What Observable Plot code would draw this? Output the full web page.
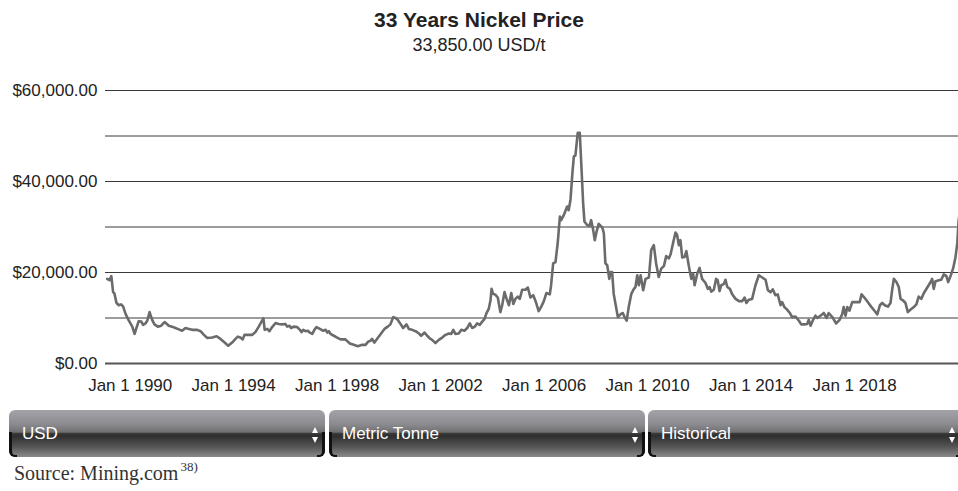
<!DOCTYPE html>
<html>
<head>
<meta charset="utf-8">
<script src="https://cdn.jsdelivr.net/npm/d3@7"></script>
<script src="https://cdn.jsdelivr.net/npm/@observablehq/plot@0.6"></script>
<style>
  body { margin: 0; background: #fff; width: 958px; height: 491px; overflow: hidden; font-family: "Liberation Sans", Arial, sans-serif; }
  #head { height: 60px; text-align: center; color: #222; }
  #title { padding-top: 8px; font-size: 21px; font-weight: bold; line-height: 24px; }
  #sub { margin-top: 2px; font-size: 18px; line-height: 22px; }
  #chart svg { display: block; }
  #controls { position: relative; height: 47px; margin-top: 10px; }
  .sel { position: absolute; top: 0; height: 47px; width: 316px; border-radius: 6px; box-sizing: border-box;
         background: linear-gradient(to bottom, #a4a4a8 0%, #8c8c90 30%, #707072 47%, #3a3a3a 50%, #2e2e2e 55%, #555 78%, #8a8a8a 100%);
         color: #fff; font-size: 17px; line-height: 47px; padding-left: 13px; }
  .sel::before { content: ""; position: absolute; left: 0; top: 22px; bottom: 0; width: 5px; border-left: 3px solid #111; border-bottom: 2px solid #111; border-bottom-left-radius: 6px; }
  .sel::after { content: ""; position: absolute; right: 0; top: 22px; bottom: 0; width: 5px; border-right: 3px solid #111; border-bottom: 2px solid #111; border-bottom-right-radius: 6px; }
  .arr { position: absolute; right: 7px; top: 17px; width: 0; height: 0; border-left: 3.5px solid transparent; border-right: 3.5px solid transparent; }
  .up { border-bottom: 6px solid #fff; }
  .dn { top: 27px; border-top: 6px solid #fff; }
  #source { margin-top: 4px; padding-left: 14px; font-family: "Liberation Serif", "Times New Roman", serif; font-size: 20px; line-height: 24px; color: #333; }
  #source sup { font-size: 13px; vertical-align: 9px; line-height: 0; margin-left: 2px; }
</style>
</head>
<body>
<div id="head">
  <div id="title">33 Years Nickel Price</div>
  <div id="sub">33,850.00 USD/t</div>
</div>
<div id="chart"></div>
<div id="controls">
  <div class="sel" style="left:9px">USD<div class="arr up"></div><div class="arr dn"></div></div>
  <div class="sel" style="left:329px">Metric Tonne<div class="arr up"></div><div class="arr dn"></div></div>
  <div class="sel" style="left:648px;width:316px">Historical<div class="arr up" style="right:9px"></div><div class="arr dn" style="right:9px"></div></div>
</div>
<div id="source">Source: Mining.com<sup>38)</sup></div>
<script>
// Decimal years
const years = [
  1989.11,1989.20,1989.27,1989.34,1989.39,1989.47,1989.56,1989.65,1989.73,1989.82,1989.95,
  1990.08,1990.17,1990.24,1990.33,1990.43,1990.50,1990.59,1990.66,1990.75,1990.85,1990.94,
  1991.07,1991.20,1991.33,1991.40,1991.49,1991.62,1991.75,1991.88,
  1992.01,1992.14,1992.27,1992.40,1992.59,1992.72,1992.85,1992.98,
  1993.17,1993.34,1993.49,1993.65,1993.79,1993.94,
  1994.07,1994.16,1994.26,1994.35,1994.42,1994.55,1994.72,1994.84,1994.97,
  1995.10,1995.15,1995.20,1995.30,1995.38,1995.49,1995.62,1995.74,1995.88,
  1996.00,1996.07,1996.16,1996.22,1996.32,1996.46,1996.56,1996.62,1996.69,1996.78,1996.87,1996.94,
  1997.04,1997.12,1997.20,1997.33,1997.46,1997.55,1997.62,1997.68,1997.74,1997.87,
  1998.00,1998.13,1998.32,1998.49,1998.64,1998.80,1998.97,
  1999.10,1999.20,1999.29,1999.35,1999.44,1999.57,1999.70,1999.83,1999.96,
  2000.06,2000.17,2000.26,2000.34,2000.45,2000.55,2000.68,2000.77,2000.90,
  2001.03,2001.16,2001.25,2001.38,2001.48,2001.58,2001.67,2001.80,2001.93,
  2002.06,2002.19,2002.32,2002.41,2002.49,2002.57,2002.70,2002.80,2002.92,
  2003.03,2003.13,2003.22,2003.32,2003.41,2003.51,2003.61,2003.70,2003.77,2003.86,2003.93,2003.97,
  2004.03,2004.12,2004.21,2004.31,2004.38,2004.47,2004.55,2004.64,2004.73,2004.81,2004.89,2004.98,
  2005.06,2005.15,2005.28,2005.37,2005.47,2005.58,2005.67,2005.79,2005.89,2005.99,
  2006.09,2006.22,2006.27,2006.35,2006.44,2006.53,2006.61,2006.66,2006.76,2006.89,2006.95,
  2007.02,2007.09,2007.15,2007.21,2007.30,2007.38,2007.47,2007.51,2007.56,2007.67,2007.75,2007.82,2007.90,2007.96,
  2008.03,2008.11,2008.25,2008.31,2008.37,2008.44,2008.52,2008.57,2008.63,2008.69,2008.76,2008.85,2008.95,
  2009.04,2009.11,2009.19,2009.27,2009.37,2009.47,2009.53,2009.60,2009.66,2009.73,2009.83,2009.92,
  2010.05,2010.14,2010.24,2010.33,2010.43,2010.53,2010.63,2010.72,2010.82,2010.89,2010.99,
  2011.08,2011.14,2011.21,2011.27,2011.34,2011.43,2011.50,2011.59,2011.69,2011.76,2011.82,2011.92,
  2012.01,2012.11,2012.24,2012.33,2012.40,2012.46,2012.56,2012.65,2012.71,2012.78,2012.85,2012.95,
  2013.01,2013.08,2013.18,2013.27,2013.40,2013.53,2013.66,2013.75,2013.82,2013.91,
  2014.04,2014.17,2014.30,2014.43,2014.56,2014.65,2014.75,2014.84,2014.94,
  2015.03,2015.14,2015.20,2015.29,2015.40,2015.50,2015.59,2015.72,2015.85,2015.94,
  2016.07,2016.17,2016.23,2016.30,2016.40,2016.49,2016.56,2016.68,2016.81,2016.92,
  2017.00,2017.14,2017.29,2017.42,2017.52,2017.58,2017.65,2017.72,2017.80,2017.91,
  2018.04,2018.20,2018.27,2018.38,2018.51,2018.64,2018.77,2018.88,2018.98,
  2019.07,2019.17,2019.29,2019.39,2019.46,2019.52,2019.62,2019.71,2019.78,2019.87,2019.97,
  2020.06,2020.16,2020.29,2020.39,2020.48,2020.58,2020.68,2020.81,2020.94,
  2021.00,2021.06,2021.13,2021.26,2021.35,2021.45,2021.55,2021.62,2021.71,2021.81,2021.90,2021.97,
  2022.02,2022.08
];
// Nickel price, USD per metric tonne
const prices = [
  18600,18300,19200,15700,15400,13300,12800,13000,12500,10900,9400,
  8100,6500,7800,9300,9200,8500,8800,9400,11300,9600,8600,
  8100,8300,9100,8800,8300,8100,7800,7500,
  7200,7800,7600,7400,7400,7100,6300,5600,
  5700,6000,5400,4600,3900,4600,
  5400,5900,5700,5300,6300,6300,6300,6900,8100,
  9400,9900,7400,7600,7100,8000,8900,8700,8600,
  8700,8100,8300,7800,8100,8000,7400,6900,7400,7100,7200,6800,
  6500,7400,8000,7600,7200,7400,6800,7100,6500,6100,
  5700,5300,5300,4400,4100,3800,4100,
  4100,4800,5000,5400,4600,5600,6600,7600,8100,
  8600,10200,10000,9600,8700,7800,8600,7600,7400,
  7100,6600,6100,6800,6100,5500,5200,4500,5200,
  5700,6300,6600,6500,7400,6500,6600,7400,7200,
  7800,8800,7800,8100,8800,8500,9200,9800,11000,12000,13900,16400,
  15300,15100,14500,11300,12800,15700,14200,12800,15500,13100,14200,14700,
  14200,16200,16200,16700,14500,15000,13700,11500,12500,13700,
  15500,15200,17200,22000,22300,26700,32300,31500,32600,34500,33700,
  36000,41500,45500,45700,50700,50700,40000,35200,31200,30400,30200,31500,29300,27100,
  29000,30700,29900,28600,22000,21600,18600,20100,20100,15300,13100,10200,10800,
  11100,10200,9400,12400,15300,16400,16800,19400,17200,19400,16100,18600,
  18900,24900,26000,22000,19000,20900,21400,23600,23100,24000,26600,
  28800,28300,26000,27100,23300,23400,24700,21600,18600,19800,17200,19800,
  21000,18600,17700,16400,16800,15800,16200,18600,18300,15900,17200,17500,
  18400,16800,16400,15200,14200,13700,13700,14500,13300,14000,
  14200,17200,19400,18900,18400,16100,15700,16300,15000,
  15200,12800,13500,12400,11800,11100,10200,10300,9400,8600,
  8600,8700,9600,8300,9600,10500,10000,10500,11100,10000,
  11100,10200,8800,9600,10800,12400,10500,12400,11600,13500,
  13500,13500,15200,14500,13500,12500,11600,10800,12800,
  13300,12800,12500,13300,16400,18600,17900,16800,14200,13900,13300,
  11300,11800,12400,13000,14700,14200,15500,16700,17900,
  18600,16400,18100,18300,18400,19600,19200,17900,19200,20900,23300,26400,
  31200,33850
];
const gridValues = [0, 10000, 20000, 30000, 40000, 50000, 60000];
const yTickValues = [0, 20000, 40000, 60000];
const xTickYears = [1990, 1994, 1998, 2002, 2006, 2010, 2014, 2018];
const xDomainYears = [1989.045, 2022.018];

function yearToDate(y) {
  const yr = Math.floor(y);
  const start = Date.UTC(yr, 0, 1);
  const end = Date.UTC(yr + 1, 0, 1);
  return new Date(start + (y - yr) * (end - start));
}

const data = years.map((y, i) => ({ date: yearToDate(y), price: prices[i] }));
const font = "Liberation Sans, Arial, sans-serif";

const chart = Plot.plot({
  width: 958,
  height: 340,
  marginTop: 30,
  marginBottom: 37,
  marginLeft: 105,
  marginRight: 0,
  style: { fontFamily: font, fontSize: "17px", color: "#222", background: "#fff", overflow: "visible" },
  x: { type: "utc", domain: xDomainYears.map(yearToDate), label: null },
  y: { domain: [0, 60000], label: null },
  marks: [
    Plot.ruleY(gridValues.filter(d => d > 0), { stroke: "#3a3a3a", strokeWidth: 1 }),
    Plot.ruleY([0], { stroke: "#555", strokeWidth: 2 }),
    Plot.line(data, { x: "date", y: "price", stroke: "#6b6b6b", strokeWidth: 2.6, clip: true }),
    Plot.axisY(yTickValues, { tickFormat: d3.format("$,.2f"), tickSize: 0, tickPadding: 8, fontSize: 17, fill: "#222" }),
    Plot.axisX(xTickYears.map(y => new Date(Date.UTC(y, 0, 1))), { tickFormat: d3.utcFormat("%b %-d %Y"), tickSize: 0, tickPadding: 15, fontSize: 17, fill: "#222" })
  ]
});
document.getElementById("chart").appendChild(chart);
</script>
</body>
</html>
